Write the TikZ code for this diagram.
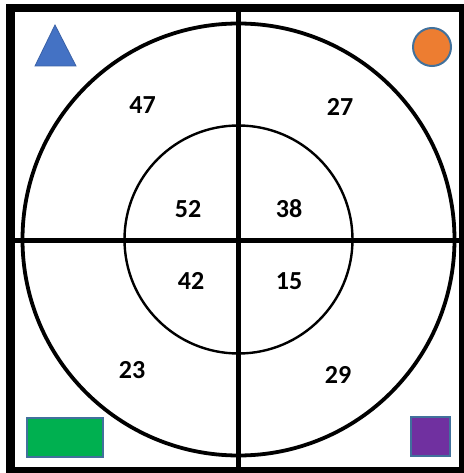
\documentclass[tikz,border=0pt]{standalone}
\usepackage{fontspec}
\setmainfont{Carlito}
\definecolor{triblue}{HTML}{4472C4}
\definecolor{edgeblue}{HTML}{41719C}
\definecolor{orng}{HTML}{ED7D31}
\definecolor{grn}{HTML}{00B050}
\definecolor{purp}{HTML}{7030A0}
\tikzset{
  num/.style={font=\bfseries\fontsize{26}{26}\selectfont, inner sep=0pt},
  crossline/.style={line width=5pt},
}
\begin{document}
\begin{tikzpicture}[x=1pt,y=-1pt]
\useasboundingbox (0,0) rectangle (463,473);
\fill[white] (0,0) rectangle (463,473);
% border
\draw[line width=8.5pt] (10.5,8) rectangle (463.5,471);
% circles
\coordinate (c) at (238.5,239.5);
\draw[line width=3.8pt] (c) circle[radius=216];
\draw[line width=2.4pt] (c) circle[radius=114];
% cross
\coordinate (t) at (238.5,8);
\coordinate (b) at (238.5,467);
\coordinate (l) at (12,240);
\coordinate (r) at (460,240);
\draw[crossline] (t) -- (b);
\draw[crossline] (l) -- (r);
% numbers
\node[num] (n47) at (142.5,105) {47};
\node[num] (n27) at (340,107) {27};
\node[num] (n52) at (188,209) {52};
\node[num] (n38) at (289,209) {38};
\node[num] (n42) at (191,281) {42};
\node[num] (n15) at (289,281) {15};
\node[num] (n23) at (132,370) {23};
\node[num] (n29) at (338,375) {29};
% corner shapes
\filldraw[fill=triblue, draw=triblue!85!black, line width=0.8pt] (55,25) -- (76,66) -- (35,66) -- cycle;
\filldraw[fill=orng, draw=edgeblue, line width=2pt] (432,47) circle[radius=19];
\filldraw[fill=grn, draw=edgeblue, line width=2pt] (27,418) rectangle (103,457);
\filldraw[fill=purp, draw=edgeblue, line width=2.5pt] (411,417) rectangle (450,456);
\end{tikzpicture}
\end{document}
